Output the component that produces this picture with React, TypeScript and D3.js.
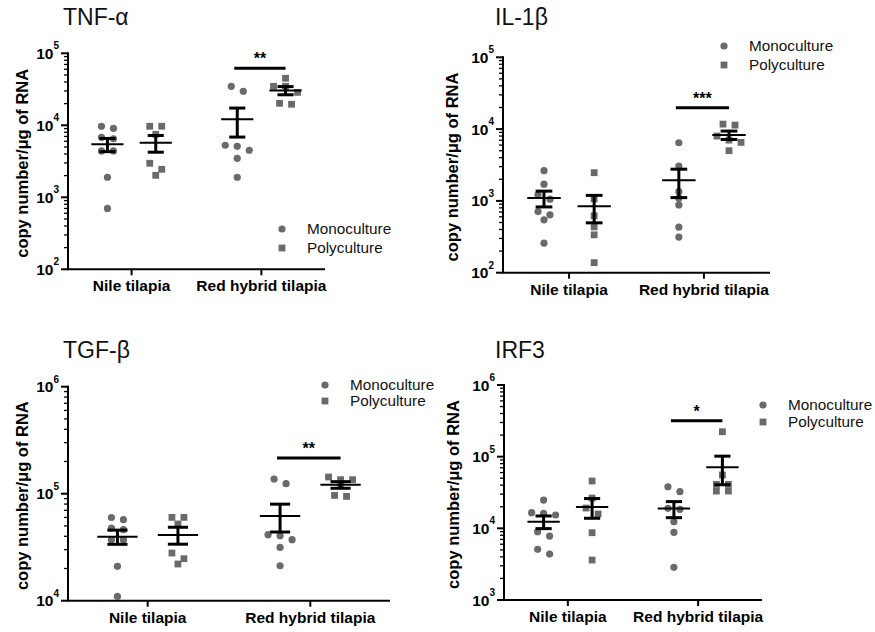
import React from "react";
import * as d3 from "d3";

// ---------- data ----------
const categories = ["Nile tilapia", "Red hybrid tilapia"];
const groups = ["Monoculture", "Polyculture"];
const panelTitles = ["TNF-α", "IL-1β", "TGF-β", "IRF3"];
const yAxisTitle = "copy number/μg of RNA";

// TNF-α
const tnfNileMono = [9700, 9090, 6800, 6500, 4400, 4400, 1900, 700];
const tnfNilePoly = [9700, 9700, 7500, 2970, 2450, 2020];
const tnfRedMono = [34800, 29700, 5110, 4500, 5280, 3480, 1900];
const tnfRedPoly = [45000, 34800, 34800, 28700, 19600, 20200];

// IL-1β
const il1NileMono = [2640, 1710, 1056, 1211, 639, 710, 545, 258];
const il1NilePoly = [2470, 1066, 619, 435, 337, 138];
const il1RedMono = [6450, 3060, 1346, 1090, 880, 431, 313];
const il1RedPoly = [11370, 11730, 8000, 7030, 6530, 5000];

// TGF-β
const tgfNileMono = [57150, 59950, 47760, 46100, 37150, 37150, 20940, 10960];
const tgfNilePoly = [60100, 60100, 52100, 27900, 24700, 22030];
const tgfRedMono = [137200, 124000, 40440, 37150, 41370, 31480, 21220];
const tgfRedPoly = [143300, 135200, 135200, 121400, 94350, 96400];

// IRF3
const irfNileMono = [24830, 16520, 16190, 15340, 8970, 7810, 5090, 4380];
const irfNilePoly = [45730, 26460, 19190, 15840, 8690, 3610];
const irfRedMono = [32430, 38050, 19000, 18410, 12360, 8800, 2860];
const irfRedPoly = [222800, 55460, 41120, 41120, 33110, 33110];

// y-axis ranges (decades) per panel
const yDomains: [number, number][] = [
  [1e2, 1e5],
  [1e2, 1e5],
  [1e4, 1e6],
  [1e3, 1e6],
];

// significance bars (height in data units) and labels
const sigLevels = [61900, 19770, 215800, 317700];
const sigLabels = ["**", "***", "**", "*"];

// ---------- layout / style ----------
const FONT = "'Liberation Sans', Arial, Helvetica, sans-serif";
const POINT = "#6a6a6a";

const layouts = [
  { left: 68, right: 325, top: 53.3, bottom: 269.3, titleX: 63, titleY: 25, labelX: 28, legX: 282, legY: 229, legDy: 19 },
  { left: 503, right: 770, top: 57.3, bottom: 272.7, titleX: 495, titleY: 25, labelX: 457.5, legX: 724, legY: 46, legDy: 19 },
  { left: 68, right: 390, top: 386.7, bottom: 600.7, titleX: 63, titleY: 357.5, labelX: 28, legX: 325, legY: 385, legDy: 16 },
  { left: 504, right: 762, top: 385, bottom: 600, titleX: 495, titleY: 357.5, labelX: 459, legX: 763, legY: 405, legDy: 17 },
];

const panelSeries = [
  [[tnfNileMono, tnfNilePoly], [tnfRedMono, tnfRedPoly]],
  [[il1NileMono, il1NilePoly], [il1RedMono, il1RedPoly]],
  [[tgfNileMono, tgfNilePoly], [tgfRedMono, tgfRedPoly]],
  [[irfNileMono, irfNilePoly], [irfRedMono, irfRedPoly]],
];

function swarm(values: number[], y: (v: number) => number, spacing: number, threshold: number) {
  const items = values.map((v) => ({ v, y: y(v) })).sort((a, b) => a.y - b.y);
  const rows: { v: number; y: number }[][] = [];
  let cur: { v: number; y: number }[] = [];
  for (const it of items) {
    if (cur.length && it.y - cur[0].y >= threshold) {
      rows.push(cur);
      cur = [];
    }
    cur.push(it);
  }
  if (cur.length) rows.push(cur);
  const out: { y: number; dx: number }[] = [];
  rows.forEach((row) => row.forEach((it, i) => out.push({ y: it.y, dx: (i - (row.length - 1) / 2) * spacing })));
  return out;
}

function Marker({ kind, cx, cy }: { kind: number; cx: number; cy: number }) {
  if (kind === 0) return <circle cx={cx} cy={cy} r={3.6} fill={POINT} />;
  const s = 6.8;
  return <rect x={cx - s / 2} y={cy - s / 2} width={s} height={s} fill={POINT} />;
}

function Panel({ idx }: { idx: number }) {
  const L = layouts[idx];
  const domain = yDomains[idx];
  const y = d3.scaleLog().domain(domain).range([L.bottom, L.top]);
  const x = d3.scalePoint<string>().domain(categories).range([L.left, L.right]).padding(0.49);
  const step = x.step();
  const inner = d3.scalePoint<string>().domain(groups).range([-0.186 * step, 0.186 * step]);
  const e0 = Math.round(Math.log10(domain[0]));
  const e1 = Math.round(Math.log10(domain[1]));
  const decades = d3.range(e0, e1 + 1);
  const minors: number[] = [];
  d3.range(e0, e1).forEach((e) => d3.range(2, 10).forEach((k) => minors.push(k * Math.pow(10, e))));
  const mid = (L.top + L.bottom) / 2;
  const halfMean = 0.124 * step;
  const halfCap = 0.062 * step;

  const sigY = y(sigLevels[idx]);
  const sx0 = (x(categories[1]) as number) + (inner(groups[0]) as number) - 3;
  const sx1 = (x(categories[1]) as number) + (inner(groups[1]) as number);

  return (
    <g fontFamily={FONT}>
      <text x={L.titleX} y={L.titleY} fontSize={23} fill="#111">
        {panelTitles[idx]}
      </text>
      {/* y axis */}
      <line x1={L.left} x2={L.left} y1={L.top - 1} y2={L.bottom} stroke="#000" strokeWidth={2} />
      {decades.map((e) => (
        <g key={"d" + e}>
          <line x1={L.left - 7} x2={L.left} y1={y(Math.pow(10, e))} y2={y(Math.pow(10, e))} stroke="#000" strokeWidth={2} />
          <text x={L.left - 9} y={y(Math.pow(10, e)) + 5.5} textAnchor="end" fontWeight="bold" fontSize={15.5} fill="#000">
            10
            <tspan fontSize={10} dy={-9.5}>
              {e}
            </tspan>
          </text>
        </g>
      ))}
      {minors.map((v, i) => (
        <line key={"m" + i} x1={L.left - 4} x2={L.left} y1={y(v)} y2={y(v)} stroke="#000" strokeWidth={1.3} />
      ))}
      <text
        transform={`translate(${L.labelX},${mid + 2}) rotate(-90)`}
        textAnchor="middle"
        fontWeight="bold"
        fontSize={16.5}
        fill="#000"
      >
        {yAxisTitle}
      </text>
      {/* x axis */}
      <line x1={L.left - 1} x2={L.right} y1={L.bottom} y2={L.bottom} stroke="#000" strokeWidth={2} />
      {categories.map((c) => (
        <g key={c}>
          <line x1={x(c)} x2={x(c)} y1={L.bottom} y2={L.bottom + 6} stroke="#000" strokeWidth={2} />
          <text x={x(c)} y={L.bottom + 22} textAnchor="middle" fontWeight="bold" fontSize={15.5} fill="#000">
            {c}
          </text>
        </g>
      ))}
      {/* data */}
      {categories.map((c, ci) =>
        groups.map((g, gi) => {
          const vals = panelSeries[idx][ci][gi];
          const cx = (x(c) as number) + (inner(g) as number);
          const m = d3.mean(vals) as number;
          const se = (d3.deviation(vals) as number) / Math.sqrt(vals.length);
          const pts = swarm(vals, (v) => y(v), 12, 6.5);
          return (
            <g key={c + g}>
              {pts.map((p, pi) => (
                <Marker key={pi} kind={gi} cx={cx + p.dx} cy={p.y} />
              ))}
              <line x1={cx - halfMean} x2={cx + halfMean} y1={y(m)} y2={y(m)} stroke="#000" strokeWidth={2} />
              <line x1={cx} x2={cx} y1={y(m - se)} y2={y(m + se)} stroke="#000" strokeWidth={3} />
              <line x1={cx - halfCap} x2={cx + halfCap} y1={y(m + se)} y2={y(m + se)} stroke="#000" strokeWidth={3} />
              <line x1={cx - halfCap} x2={cx + halfCap} y1={y(m - se)} y2={y(m - se)} stroke="#000" strokeWidth={3} />
            </g>
          );
        })
      )}
      {/* significance */}
      <line x1={sx0} x2={sx1} y1={sigY} y2={sigY} stroke="#000" strokeWidth={3} />
      <text x={(sx0 + sx1) / 2} y={sigY - 4} textAnchor="middle" fontWeight="bold" fontSize={16} fill="#000">
        {sigLabels[idx]}
      </text>
      {/* legend */}
      {groups.map((g, gi) => (
        <g key={"l" + g}>
          <Marker kind={gi} cx={L.legX} cy={L.legY + gi * L.legDy} />
          <text x={L.legX + 25} y={L.legY + gi * L.legDy + 5} fontSize={15.3} fill="#111">
            {g}
          </text>
        </g>
      ))}
    </g>
  );
}

export default function App() {
  return (
    <svg
      width={875}
      height={632}
      viewBox="0 0 875 632"
      style={{ position: "absolute", left: 0, top: 0, background: "#fff" }}
    >
      <rect width={875} height={632} fill="#fff" />
      {[0, 1, 2, 3].map((i) => (
        <Panel key={i} idx={i} />
      ))}
    </svg>
  );
}
